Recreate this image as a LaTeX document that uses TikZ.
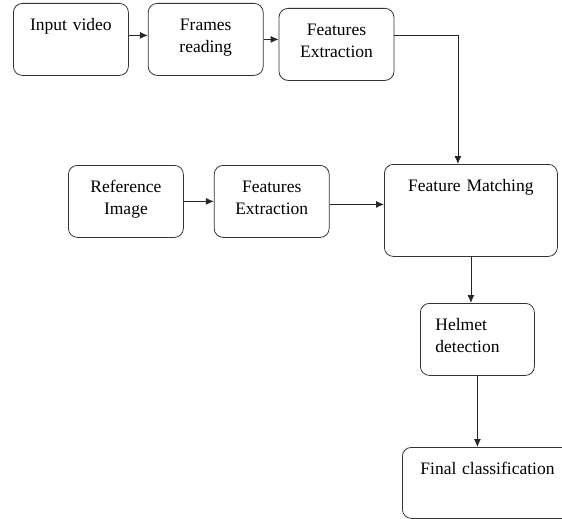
\documentclass[tikz,border=0pt]{standalone}
\usepackage{fontspec}
\setmainfont{Liberation Serif}
\usetikzlibrary{positioning,arrows.meta}

\begin{document}
\begin{tikzpicture}[
                x = 1pt,
                y = -1pt,
                > = {Latex[length=8pt,width=7pt]},
                line width = 0.8pt,
                font = \fontsize{17.5}{22}\selectfont
                ]

                \tikzstyle{block}=[
                        draw = black!80,
                        rounded corners = 9pt,
                        inner xsep = 4pt,
                        inner ysep = 0pt,
                        text width = 107pt,
                        align = center,
                        text height = 27pt,
                        text depth = 45pt
                ]
                \tikzstyle{link}=[
                        ->,
                        draw = black!85
                ]

                \clip (0,0) rectangle (562,519);

                % first row
                \node[block, anchor=north west] (input) at (13,3) {Input video};
                \node[block] (frames) [right=19pt of input] {Frames\\reading};
                \node[block] (feat1) [right=15pt of frames, yshift=-5pt] {Features\\Extraction};

                % second row
                \node[block, anchor=north west] (ref) at (68,165) {Reference\\Image};
                \node[block] (feat2) [right=30pt of ref] {Features\\Extraction};
                \node[block, anchor=north west, text width=165pt, text depth=65pt] (match) at (384,164) {Feature Matching};

                % bottom
                \node[block, anchor=north west, align=left, inner xsep=15pt, text width=84pt] (helmet) at (420,303) {Helmet\\detection};
                \node[block, anchor=north west, align=left, inner xsep=18pt, text width=140pt, text depth=44pt] (final) at (402,447) {Final classification};

                \draw[link] ([yshift=4pt]input.east) -- ([yshift=4pt]frames.west);
                \draw[link] (frames.east) -- (frames.east -| feat1.west);
                \draw[link] ([yshift=9pt]feat1.east) -| ([xshift=-13pt]match.north);
                \draw[link] (ref.east) -- (ref.east -| feat2.west);
                \draw[link] ([yshift=-3pt]feat2.east) -- ([yshift=-3pt]feat2.east -| match.west);
                \draw[link] (match.south) -- (match.south |- helmet.north);
                \draw[link] (helmet.south) -- (helmet.south |- final.north);
\end{tikzpicture}
\end{document}
